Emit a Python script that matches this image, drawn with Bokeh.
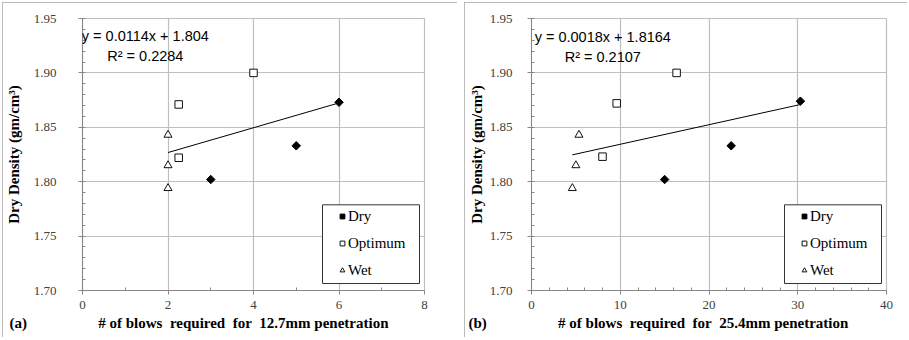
import numpy as np
from bokeh.plotting import figure
from bokeh.layouts import row, column
from bokeh.models import (Range1d, FixedTicker, PrintfTickFormatter, Legend, LegendItem,
                          Label, Spacer, BoxAnnotation, Title)
from bokeh.embed import file_html
from bokeh.resources import INLINE

# ---------------- data ----------------
# panel (a): blows for 12.7 mm penetration
a_dry_x = [3.0, 5.0, 6.0]
a_dry_y = [1.802, 1.833, 1.873]
a_opt_x = [2.25, 2.25, 4.0]
a_opt_y = [1.871, 1.822, 1.900]
a_wet_x = [2.0, 2.0, 2.0]
a_wet_y = [1.843, 1.815, 1.794]
a_slope, a_intercept = 0.0114, 1.804
a_eq = "y = 0.0114x + 1.804"
a_r2 = "R\u00b2 = 0.2284"

# panel (b): blows for 25.4 mm penetration
b_dry_x = [15.0, 22.5, 30.3]
b_dry_y = [1.802, 1.833, 1.874]
b_opt_x = [9.6, 8.0, 16.35]
b_opt_y = [1.872, 1.823, 1.900]
b_wet_x = [5.35, 5.0, 4.6]
b_wet_y = [1.843, 1.815, 1.794]
b_slope, b_intercept = 0.0018, 1.8164
b_eq = "y = 0.0018x + 1.8164"
b_r2 = "R\u00b2 = 0.2107"

y_ticks = [1.70, 1.75, 1.80, 1.85, 1.90, 1.95]
a_x_ticks = [0, 2, 4, 6, 8]
b_x_ticks = [0, 10, 20, 30, 40]
series_names = ["Dry", "Optimum", "Wet"]
y_title = "Dry Density (gm/cm\u00b3)"
a_tag = "(a)"
b_tag = "(b)"
a_x_title = "# of blows\u00a0 required\u00a0 for\u00a0 12.7mm penetration"
b_x_title = "# of blows\u00a0 required\u00a0 for\u00a0 25.4mm penetration"

SERIF = "Liberation Serif"
SANS = "Liberation Sans"
GRID = "#bfbfbf"
AXIS = "#868686"
NB = "\u00a0"


def make_panel(width, height, borders, xmax, x_ticks, x_minor, data, fit, eq, r2,
               eq_pos, x_title, x_title_offset, ylab_standoff, ytitle_standoff):
    bl, br, bt, bb = borders
    fw = width - bl - br
    fh = height - bt - bb
    p = figure(width=width, height=height, output_backend="svg", toolbar_location=None,
               x_range=Range1d(0, xmax), y_range=Range1d(1.70, 1.95),
               min_border_left=bl, min_border_right=br, min_border_top=bt,
               min_border_bottom=bb)
    p.styles = {"outline": "1px solid #a6a6a6", "outline-offset": "-1px"}
    p.outline_line_color = GRID
    p.outline_line_width = 1.2
    p.background_fill_color = "white"
    p.border_fill_color = "white"

    p.xaxis.ticker = FixedTicker(ticks=x_ticks, minor_ticks=x_minor)
    minor_y = [round(1.70 + 0.01 * i, 2) for i in range(26)]
    p.yaxis.ticker = FixedTicker(ticks=y_ticks, minor_ticks=minor_y)
    p.yaxis.formatter = PrintfTickFormatter(format="%.2f")

    for ax in (p.xaxis, p.yaxis):
        ax.axis_line_color = AXIS
        ax.major_tick_line_color = AXIS
        ax.minor_tick_line_color = AXIS
        ax.major_tick_out = 4
        ax.major_tick_in = 0
        ax.minor_tick_out = 0
        ax.minor_tick_in = 3
        ax.major_label_text_font = SERIF
        ax.major_label_text_font_size = "13px"
        ax.major_label_text_color = "#404040"
        ax.axis_label_text_font = SERIF
        ax.axis_label_text_font_style = "bold"
        ax.axis_label_text_font_size = "15px"
        ax.axis_label_text_color = "#000000"
    p.xaxis.major_label_standoff = 6
    p.yaxis.major_label_standoff = ylab_standoff
    p.yaxis.axis_label_standoff = ytitle_standoff
    p.yaxis.axis_label = y_title

    # x-axis title line (panel tag at far left + title) as a title below the axis
    xt = Title(text=x_title, align="left", offset=x_title_offset, standoff=2,
               text_font=SERIF, text_font_style="bold", text_font_size="15px",
               text_color="#000000")
    p.add_layout(xt, "below")

    p.xgrid.ticker = FixedTicker(ticks=x_ticks)
    p.ygrid.ticker = FixedTicker(ticks=y_ticks)
    p.grid.grid_line_color = GRID
    p.grid.grid_line_width = 1.2

    (dx, dy), (ox, oy), (wx, wy) = data
    slope, intercept = fit
    all_x = np.array(dx + ox + wx)
    fx = [all_x.min(), all_x.max()]
    fy = [intercept + slope * v for v in fx]
    p.line(fx, fy, line_color="black", line_width=1)

    r_dry = p.scatter(dx, dy, marker="square", angle=np.pi / 4, size=6,
                      fill_color="black", line_color="black")
    r_opt = p.scatter(ox, oy, marker="square", size=7.5, fill_color="white",
                      line_color="#111111", line_width=1)
    r_wet = p.scatter(wx, wy, marker="triangle", size=8, fill_color="white",
                      line_color="#111111", line_width=1)

    # legend frame (97 x 79 px, 5 px from right edge and 7 px from bottom of plot area)
    lg_left, lg_bottom, lg_w, lg_h = fw - 102, 7, 97, 79
    xr = xmax / fw
    yr = 0.25 / fh
    box = BoxAnnotation(left=lg_left * xr, right=(lg_left + lg_w) * xr,
                        bottom=1.70 + lg_bottom * yr, top=1.70 + (lg_bottom + lg_h) * yr,
                        fill_color="white", fill_alpha=1, line_color="#333333",
                        line_width=1, line_alpha=1)
    p.add_layout(box)

    legend = Legend(items=[LegendItem(label=series_names[0], renderers=[r_dry]),
                           LegendItem(label=series_names[1], renderers=[r_opt]),
                           LegendItem(label=series_names[2], renderers=[r_wet])],
                    location=(lg_left + 11, lg_bottom))
    legend.border_line_alpha = 0
    legend.background_fill_alpha = 0
    legend.padding = 3
    legend.spacing = 7
    legend.margin = 0
    legend.glyph_width = 12
    legend.glyph_height = 20
    legend.label_height = 20
    legend.label_standoff = 0
    legend.label_text_font = SERIF
    legend.label_text_font_size = "15px"
    legend.label_text_color = "#000000"
    p.add_layout(legend, "center")

    (ex, ey1, ey2) = eq_pos
    p.add_layout(Label(x=ex, y=ey1, text=eq, text_align="center", text_baseline="middle",
                       text_font=SANS, text_font_size="14.5px", text_color="black"))
    p.add_layout(Label(x=ex, y=ey2, text=r2, text_align="center", text_baseline="middle",
                       text_font=SANS, text_font_size="14.5px", text_color="black"))
    return p


a_xlabel = a_tag + NB * 19 + a_x_title
b_xlabel = b_tag + NB * 19 + b_x_title

p1 = make_panel(455, 335, (80, 33, 16, 46), 8, a_x_ticks, [1, 3, 5, 7],
                ((a_dry_x, a_dry_y), (a_opt_x, a_opt_y), (a_wet_x, a_wet_y)),
                (a_slope, a_intercept), a_eq, a_r2, (1.47, 1.9335, 1.9152),
                a_xlabel, -73, 22, 9)
p2 = make_panel(443, 335, (67, 21, 15, 47), 40, b_x_ticks,
                [2, 4, 6, 8, 12, 14, 16, 18, 22, 24, 26, 28, 32, 34, 36, 38],
                ((b_dry_x, b_dry_y), (b_opt_x, b_opt_y), (b_wet_x, b_wet_y)),
                (b_slope, b_intercept), b_eq, b_r2, (8.03, 1.9326, 1.915),
                b_xlabel, -63, 15, 2)

layout = column(Spacer(height=2), row(Spacer(width=2), p1, Spacer(width=7), p2))

open("out.html", "w").write(file_html(layout, INLINE))
